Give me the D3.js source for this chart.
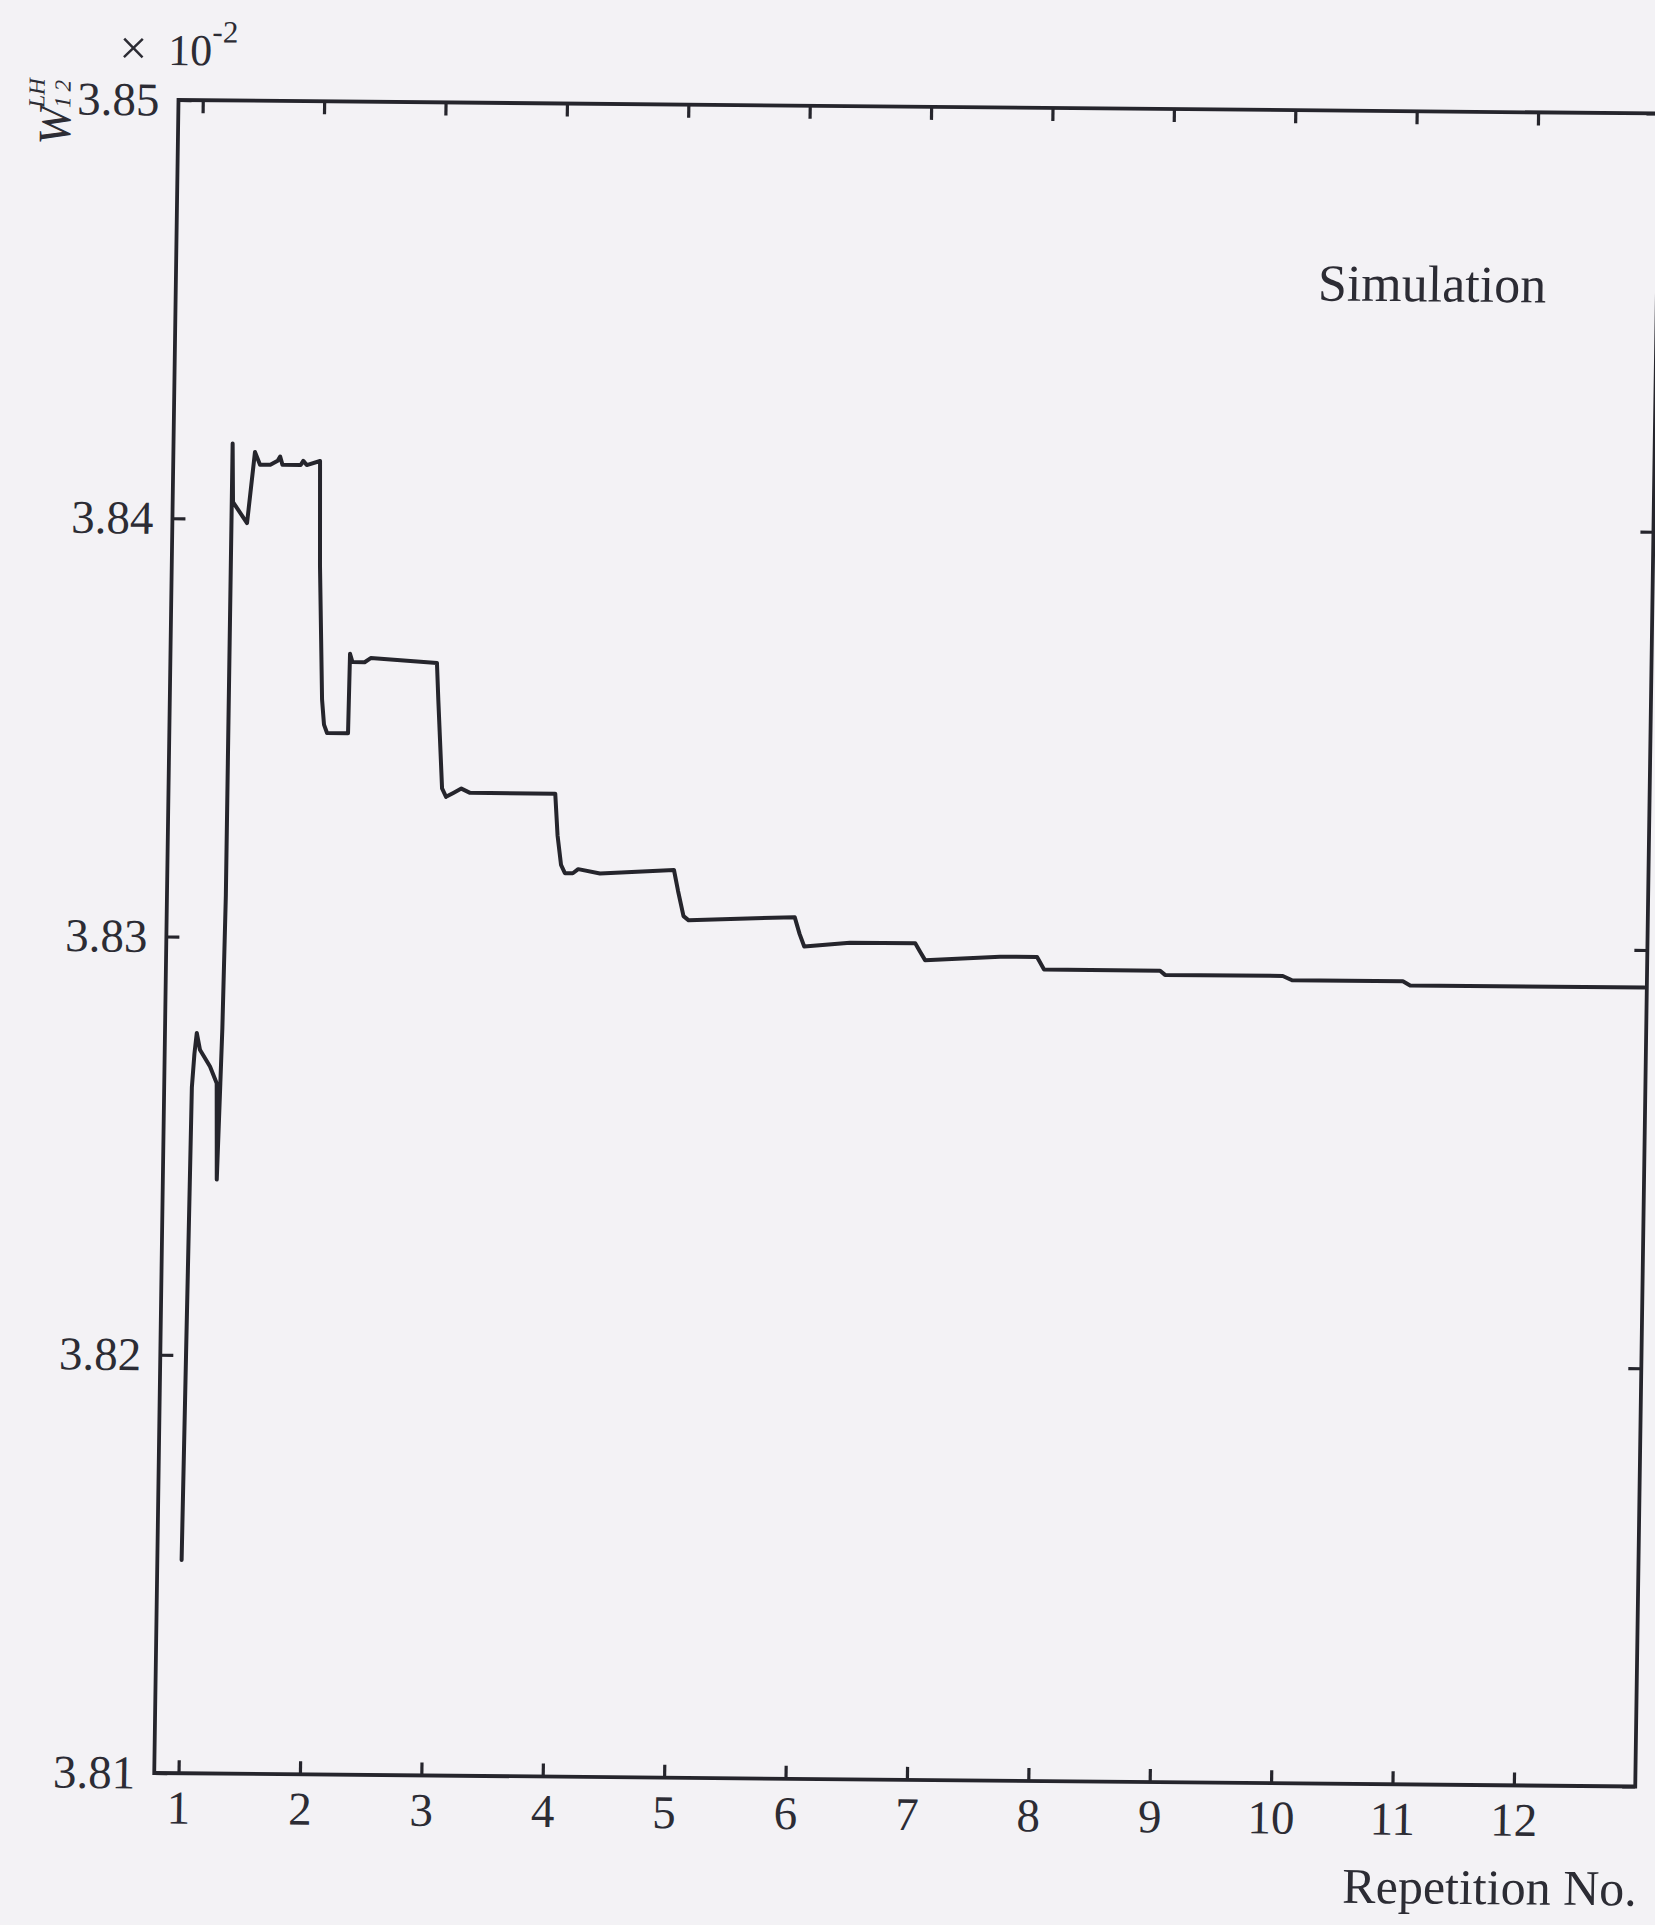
<!DOCTYPE html>
<html>
<head>
<meta charset="utf-8">
<script src="https://cdn.jsdelivr.net/npm/d3@7"></script>
<style>
  html, body { margin: 0; padding: 0; background: #f3f2f5; }
  svg { display: block; }
  text { font-family: "Liberation Serif", "Times New Roman", serif; fill: #2c2c34; }
</style>
</head>
<body>
<script>
// Repetition number (x) and simulated weight W12^LH (y, in units of 1e-2)
const repetition = [
  1.000, 1.012, 1.022, 1.028, 1.045, 1.062, 1.090, 1.175, 1.232, 1.240, 1.244,
  1.262, 1.272, 1.285, 1.287, 1.297, 1.415, 1.472, 1.515, 1.600, 1.660, 1.680,
  1.700, 1.850, 1.871, 1.900, 2.009, 2.021, 2.054, 2.073, 2.099, 2.272, 2.279,
  2.300, 2.400, 2.450, 2.996, 3.012, 3.053, 3.087, 3.150, 3.212, 3.284, 3.986,
  4.010, 4.042, 4.075, 4.140, 4.184, 4.364, 4.973, 5.009, 5.057, 5.100, 5.973,
  6.015, 6.055, 6.431, 6.969, 7.010, 7.052, 7.669, 7.974, 8.033, 8.989, 9.030,
  10.000, 10.077, 10.990, 11.050, 12.980
];
const weightLH12 = [
  3.8151, 3.8200, 3.8240, 3.8264, 3.8272, 3.8277, 3.8273, 3.8269, 3.8265, 3.8250, 3.8242,
  3.8265, 3.8278, 3.8310, 3.8418, 3.8404, 3.8399, 3.8416, 3.8413, 3.8413, 3.8414, 3.8415,
  3.8413, 3.8413, 3.8414, 3.8413, 3.8414, 3.8389, 3.8357, 3.8351, 3.8349, 3.8349, 3.8368,
  3.8366, 3.8366, 3.8367, 3.8366, 3.8357, 3.8336, 3.8334, 3.8335, 3.8336, 3.8335, 3.8335,
  3.8325, 3.8318, 3.8316, 3.8316, 3.8317, 3.8316, 3.8317, 3.8312, 3.8306, 3.8305, 3.8306,
  3.8302, 3.8299, 3.8300, 3.8300, 3.8298, 3.8296, 3.8297, 3.8297, 3.8294, 3.8294, 3.8293,
  3.8293, 3.8292, 3.8292, 3.8291, 3.8291
];
const xTicks = [1, 2, 3, 4, 5, 6, 7, 8, 9, 10, 11, 12];
const yTicks = [3.81, 3.82, 3.83, 3.84, 3.85];
const yTickLabels = ["3.81", "3.82", "3.83", "3.84", "3.85"];

const width = 1655, height = 1925;
const plotW = 1481, plotH = 1673;
const ink = "#25252c";

const svg = d3.select("body").append("svg")
  .attr("width", width).attr("height", height);

svg.append("rect").attr("width", width).attr("height", height).attr("fill", "#f3f2f5");

// The printed figure sits slightly skewed on the page
const g = svg.append("g")
  .attr("transform", "matrix(1,0.009115,-0.0145,1,178.5,100)");

const x = d3.scaleLinear().domain([0.8, 13]).range([0, plotW]);
const y = d3.scaleLinear().domain([3.81, 3.85]).range([plotH, 0]);

function styleAxis(sel, withText) {
  sel.select(".domain").remove();
  sel.selectAll(".tick line").attr("stroke", ink).attr("stroke-width", 3.2);
  sel.selectAll(".tick text")
    .attr("fill", "#2c2c34")
    .style("font-family", '"Liberation Serif", "Times New Roman", serif')
    .style("font-size", "47px");
  if (!withText) sel.selectAll(".tick text").remove();
}

// bottom axis with labels
g.append("g").attr("transform", `translate(0,${plotH})`)
  .call(d3.axisBottom(x).tickValues(xTicks).tickSizeInner(-13).tickSizeOuter(0)
    .tickPadding(17).tickFormat(d3.format("d")))
  .call(s => styleAxis(s, true));

// top axis, ticks only
g.append("g")
  .call(d3.axisTop(x).tickValues(xTicks).tickSizeInner(-13).tickSizeOuter(0))
  .call(s => styleAxis(s, false));

// left axis with labels
g.append("g")
  .call(d3.axisLeft(y).tickValues(yTicks).tickSizeInner(-13).tickSizeOuter(0)
    .tickPadding(19).tickFormat((d, i) => yTickLabels[i]))
  .call(s => styleAxis(s, true));

// right axis, ticks only
g.append("g").attr("transform", `translate(${plotW},0)`)
  .call(d3.axisRight(y).tickValues(yTicks).tickSizeInner(-13).tickSizeOuter(0))
  .call(s => styleAxis(s, false));

// frame
g.append("rect")
  .attr("x", 0).attr("y", 0).attr("width", plotW).attr("height", plotH)
  .attr("fill", "none").attr("stroke", ink).attr("stroke-width", 3.8);

// simulated weight trace
const points = repetition.map((r, i) => [r, weightLH12[i]]);
g.append("path")
  .datum(points)
  .attr("fill", "none")
  .attr("stroke", ink)
  .attr("stroke-width", 4)
  .attr("stroke-linejoin", "round")
  .attr("stroke-linecap", "round")
  .attr("d", d3.line().x(d => x(d[0])).y(d => y(d[1])));

// scale factor above the y axis
const sf = g.append("text").attr("x", -60).attr("y", -35).style("font-size", "44px");
sf.append("tspan").style("font-size", "50px").text("\u00d7");
sf.append("tspan").attr("x", -11).text("10");
sf.append("tspan").attr("dy", -23).style("font-size", "31px").text("-2");

// y axis label W12^LH, rotated
const yl = g.append("g").attr("transform", "translate(-108,46) rotate(-90)");
yl.append("text").attr("x", 0).attr("y", 0)
  .style("font-size", "46px").style("font-style", "italic").text("W");
yl.append("text").attr("x", 37).attr("y", 0)
  .style("font-size", "23px").style("font-style", "italic")
  .style("letter-spacing", "5px").text("12");
yl.append("text").attr("x", 37).attr("y", -26)
  .style("font-size", "23px").style("font-style", "italic").text("LH");

// series annotation
g.append("text").attr("x", 1142).attr("y", 190)
  .style("font-size", "52px").text("Simulation");

// x axis title
g.append("text").attr("x", 1484).attr("y", 1792)
  .attr("text-anchor", "end")
  .style("font-size", "50px").text("Repetition No.");
</script>
</body>
</html>
